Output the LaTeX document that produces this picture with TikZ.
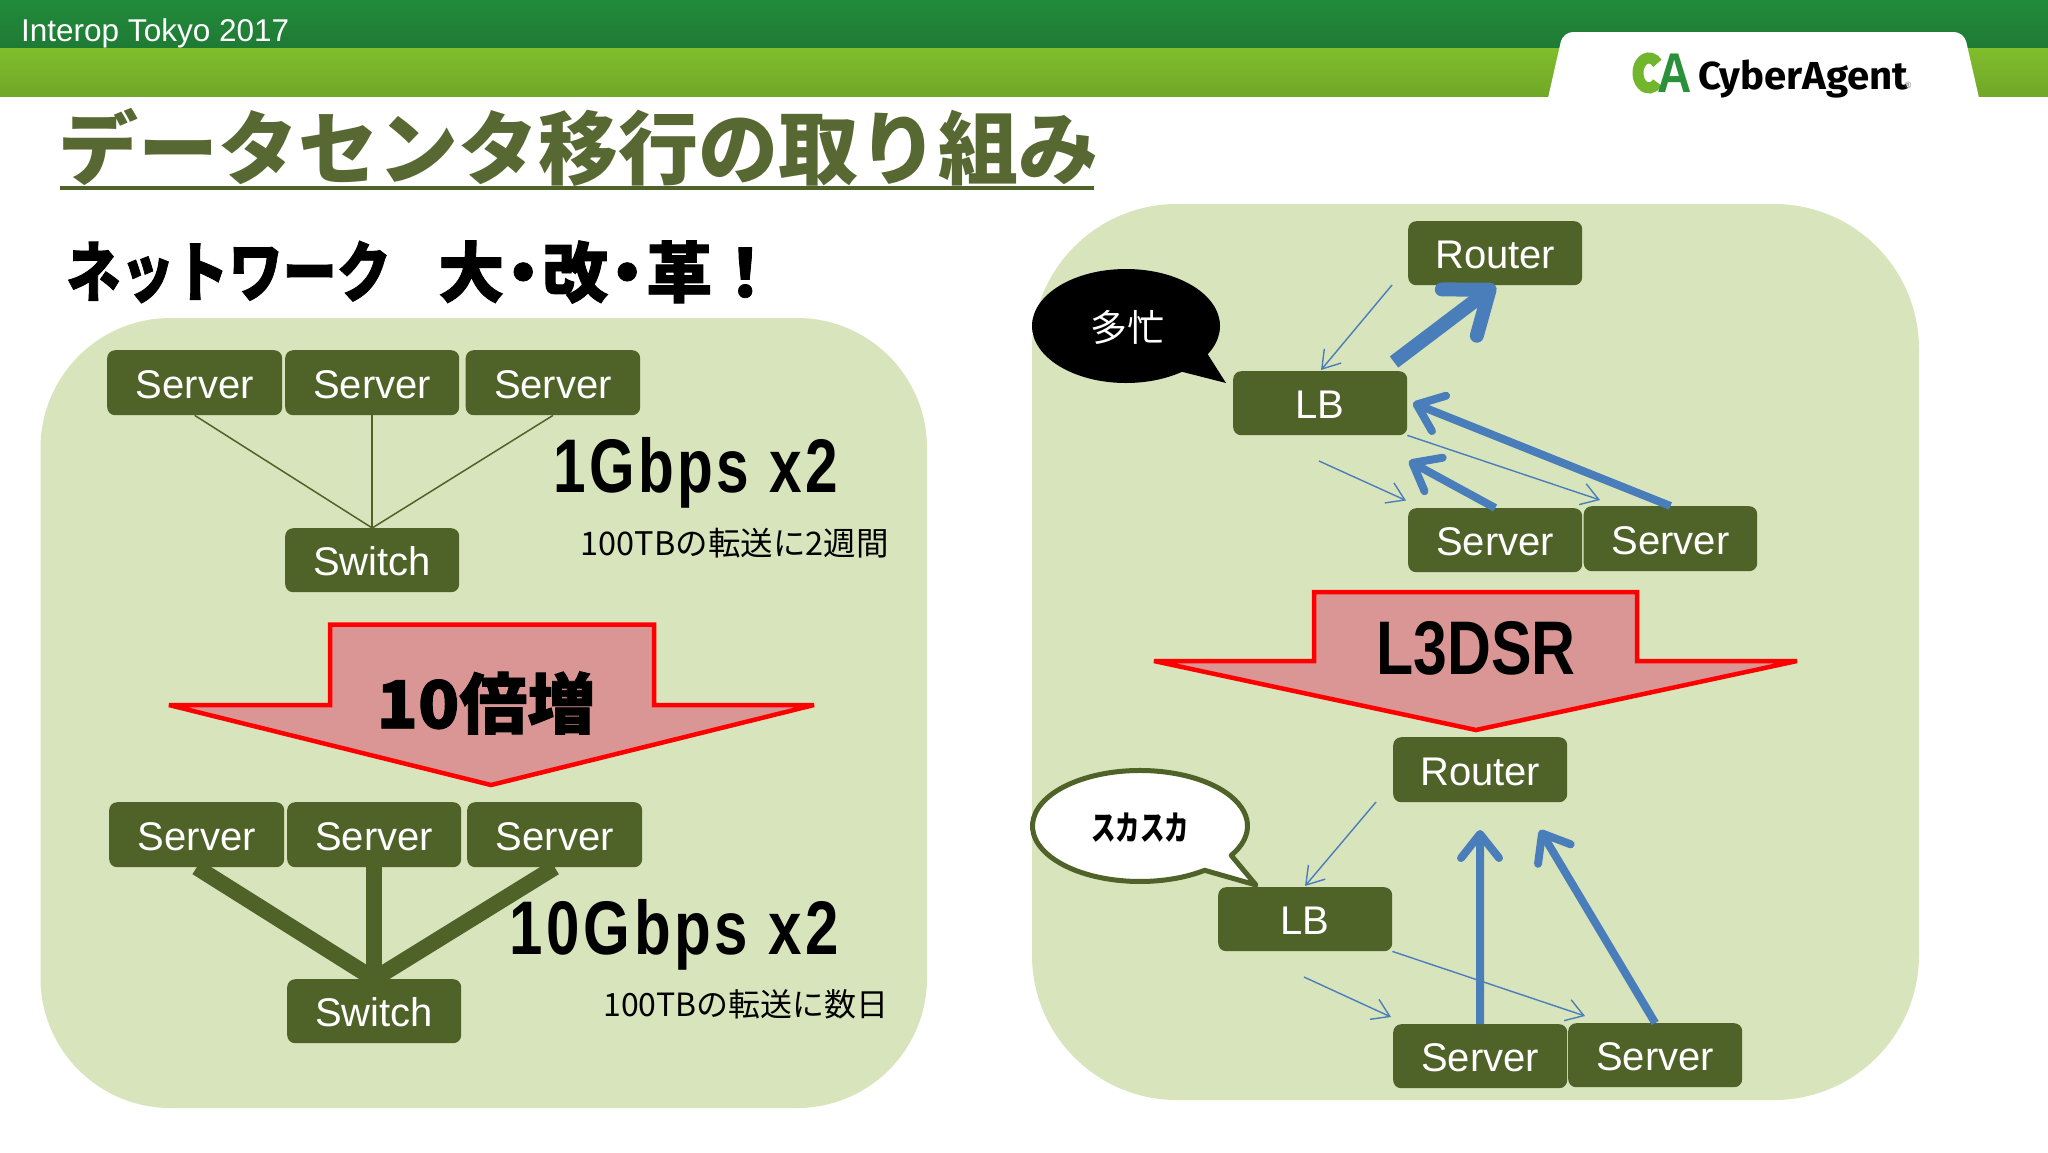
\documentclass[tikz,border=0pt]{standalone}
\usepackage{fontspec}
\usetikzlibrary{arrows.meta}
\setmainfont{Liberation Sans}
\newfontfamily\jp{Noto Sans CJK JP}
\newfontfamily\jph{Noto Sans CJK JP}[BoldFeatures={FakeBold=1.3}]
\newfontfamily\lsp[LetterSpace=6]{Liberation Sans}
\newfontfamily\lab{Liberation Sans}
\newfontfamily\logof{Fira Sans}
\definecolor{olive}{HTML}{4F6228}
\definecolor{panel}{HTML}{D8E4BC}
\definecolor{dkgreen}{HTML}{228B3B}
\definecolor{ltgreen}{HTML}{80BE2C}
\definecolor{flow}{HTML}{4A7EBB}
\definecolor{bigred}{HTML}{D99694}
\definecolor{titlecol}{HTML}{586832}
\newcommand{\fs}[1]{\fontsize{#1}{#1}\selectfont}
\tikzset{
  x=1pt,y=-1pt,
  box/.style={draw=none,fill=olive,rounded corners=8pt,text=white,font=\fs{40},inner sep=0pt,anchor=north west,align=center,text height=31.5pt,text depth=0pt},
  panelbox/.style={fill=panel,draw=none},
  bigarrow/.style={draw=red,line width=4.5pt,fill=bigred,line join=miter,miter limit=4},
  thinflow/.style={draw=flow,line width=1.4pt,-{Straight Barb[length=17pt,width=22pt,line width=1.4pt]}},
  midflow/.style={draw=flow,line width=8pt,-{Straight Barb[length=24pt,width=38pt,line width=8pt,round]}},
  fatflow/.style={draw=flow,line width=14pt,-{Straight Barb[length=38pt,width=58pt,line width=14pt,round]}},
  thinlink/.style={draw=olive,line width=1.5pt},
  fatlink/.style={draw=olive,line width=16pt},
  gb/.style={font=\lsp\bfseries\fs{76},text=black,inner sep=0pt},
  note/.style={font=\jp\fs{32.5},text=black,inner sep=0pt},
}
\newcommand{\srv}[6]{\node[box,minimum width=#4 pt - #2 pt,minimum height=#5 pt - #3 pt] (#1) at (#2,#3) {#6};}
\begin{document}
\begin{tikzpicture}
\useasboundingbox (0,0) rectangle (2048,1152);
\fill[white] (0,0) rectangle (2048,1152);
% header
\shade[top color=dkgreen,bottom color=dkgreen!88!black] (0,0) rectangle (2048,48);
\shade[top color=ltgreen,middle color=ltgreen,bottom color=ltgreen!88!black] (0,48) rectangle (2048,96);
\fill[white] (1548,98) [rounded corners=10pt] -- (1563,32) -- (1964,32) [sharp corners] -- (1979,98) -- cycle;
\node[font=\fs{31.5},text=white,anchor=west,inner sep=0pt] (event) at (21,33) {Interop Tokyo 2017};
% logo
\draw[ltgreen!85!dkgreen,line width=11pt] (1657.4,82.6) arc (40:320:11 and 15);
\node[font=\lab\bfseries\fs{56},text=dkgreen!90!ltgreen,inner sep=0pt] (logoa) at (1675,73) {\scalebox{.85}[1]{A}};
\node[font=\logof\bfseries\fs{39},text=black,inner sep=0pt,anchor=west] (logot) at (1698,79) {\scalebox{1.03}[1]{CyberAgent}};
\node[font=\fs{9},text=black!60,inner sep=0pt] (logor) at (1908,85) {®};
% title
\node[font=\jp\bfseries\fs{80},text=titlecol,inner sep=0pt,anchor=west] (title) at (58,147) {データセンタ移行の取り組み};
\coordinate (ul1) at (60,188); \coordinate (ul2) at (1094,188);
\draw[draw=olive,line width=3.5pt] (ul1) -- (ul2);
\node[font=\jph\bfseries\fs{66},text=black,inner sep=0pt,anchor=west] (sub1) at (66,272) {\scalebox{.82}[1]{ネットワーク}};
\node[font=\jph\bfseries\fs{66},text=black,inner sep=0pt,anchor=west] (sub2) at (438,272) {大\kern-14pt・\kern-14pt改\kern-14pt・\kern-14pt革！};
% panels
\fill[panelbox,rounded corners=130pt] (40.5,318) rectangle (927,1108);
\fill[panelbox,rounded corners=145pt] (1032,204) rectangle (1919,1100);
% left top
\srv{a1}{107}{350}{282}{415}{Server}
\srv{a2}{285}{350}{459}{415}{Server}
\srv{a3}{465.5}{350}{640}{415}{Server}
\srv{asw}{285}{528}{459}{592}{Switch}
\draw[thinlink] (a1.south) -- (asw.north);
\draw[thinlink] (a2.south) -- (asw.north);
\draw[thinlink] (a3.south) -- (asw.north);
\node[gb,anchor=west] (g1) at (553,473) {\scalebox{.77}[1]{1Gbps x2}};
\node[note,anchor=east] (n1) at (889,543) {100TBの転送に2週間};
% big arrow 1
\draw[bigarrow] (330,624.5) -- (654,624.5) -- (654,705) -- (814,705) -- (491,785) -- (169,705) -- (330,705) -- cycle;
\node[font=\jph\bfseries\fs{66},text=black,inner sep=0pt] (ten) at (486,703) {\scalebox{1.03}[1]{10倍増}};
% left bottom
\srv{b1}{109}{802}{284}{867}{Server}
\srv{b2}{287}{802}{461}{867}{Server}
\srv{b3}{467}{802}{642}{867}{Server}
\srv{bsw}{287}{979}{461}{1043}{Switch}
\draw[fatlink] (b1.south) -- (bsw.north);
\draw[fatlink] (b2.south) -- (bsw.north);
\draw[fatlink] (b3.south) -- (bsw.north);
\node[gb,anchor=east] (g2) at (839,935) {\scalebox{.79}[1]{10Gbps x2}};
\node[note,font=\jp\fs{32},anchor=east] (n2) at (889,1004) {100TBの転送に数日};
% right top
\srv{r1}{1408}{221}{1582}{285}{Router}
\srv{l1}{1233}{371}{1407}{435}{LB}
\srv{s1}{1408}{508}{1582}{572}{Server}
\srv{s2}{1583.5}{506}{1757}{571}{Server}
\coordinate (t1a) at (1392,285); \coordinate (t1b) at (1321,370);
\coordinate (t2a) at (1394,362);
\coordinate (t3b) at (1413,403);
\coordinate (t4b) at (1600,500);
\coordinate (t5a) at (1319,461); \coordinate (t5b) at (1406,500.5);
\coordinate (t6b) at (1409,461);
\draw[thinflow] (t1a) -- (t1b);
\draw[fatflow] (t2a) -- (r1.south);
\draw[midflow] (s2.north) -- (t3b);
\draw[thinflow] (l1.south east) -- (t4b);
\draw[thinflow] (t5a) -- (t5b);
\draw[midflow] (s1.north) -- (t6b);
% busy callout
\fill[black] (1126,326) ellipse (94 and 57);
\fill[black] (1205,350) -- (1226,383) -- (1175,370) -- cycle;
\node[font=\jp\fs{37},text=white,inner sep=0pt] (busy) at (1127,327) {多忙};
% big arrow 2
\draw[bigarrow] (1314,592) -- (1637,592) -- (1637,661) -- (1797,661) -- (1476,730) -- (1154,661) -- (1314,661) -- cycle;
\node[font=\lab\bfseries\fs{76},text=black,inner sep=0pt] (dsr) at (1476,648) {\scalebox{.8}[1]{L3DSR}};
% right bottom
\srv{r2}{1393}{737}{1567}{802}{Router}
\srv{l2}{1218}{887}{1392}{951}{LB}
\srv{u1}{1393}{1024}{1567}{1088}{Server}
\srv{u2}{1568}{1023}{1742}{1087}{Server}
\coordinate (v1a) at (1376,802); \coordinate (v1b) at (1305,886);
\coordinate (v2b) at (1480,830);
\coordinate (v3b) at (1540,830);
\coordinate (v4b) at (1585,1016);
\coordinate (v5a) at (1304,977); \coordinate (v5b) at (1391,1017);
\draw[thinflow] (v1a) -- (v1b);
\draw[midflow] (u1.north) -- (v2b);
\draw[midflow] (u2.north) -- (v3b);
\draw[thinflow] (l2.south east) -- (v4b);
\draw[thinflow] (v5a) -- (v5b);
% empty callout
\draw[draw=olive,line width=5pt,fill=white,line join=round]
  (1231.2,855.4) -- (1256,885) -- (1204.7,870.3) arc (53:392:107.5 and 55.5) -- cycle;
\node[font=\jp\bfseries\fs{34},text=black,inner sep=0pt] (sparse) at (1140,828) {\scalebox{.72}[1]{スカスカ}};
\end{tikzpicture}
\end{document}
